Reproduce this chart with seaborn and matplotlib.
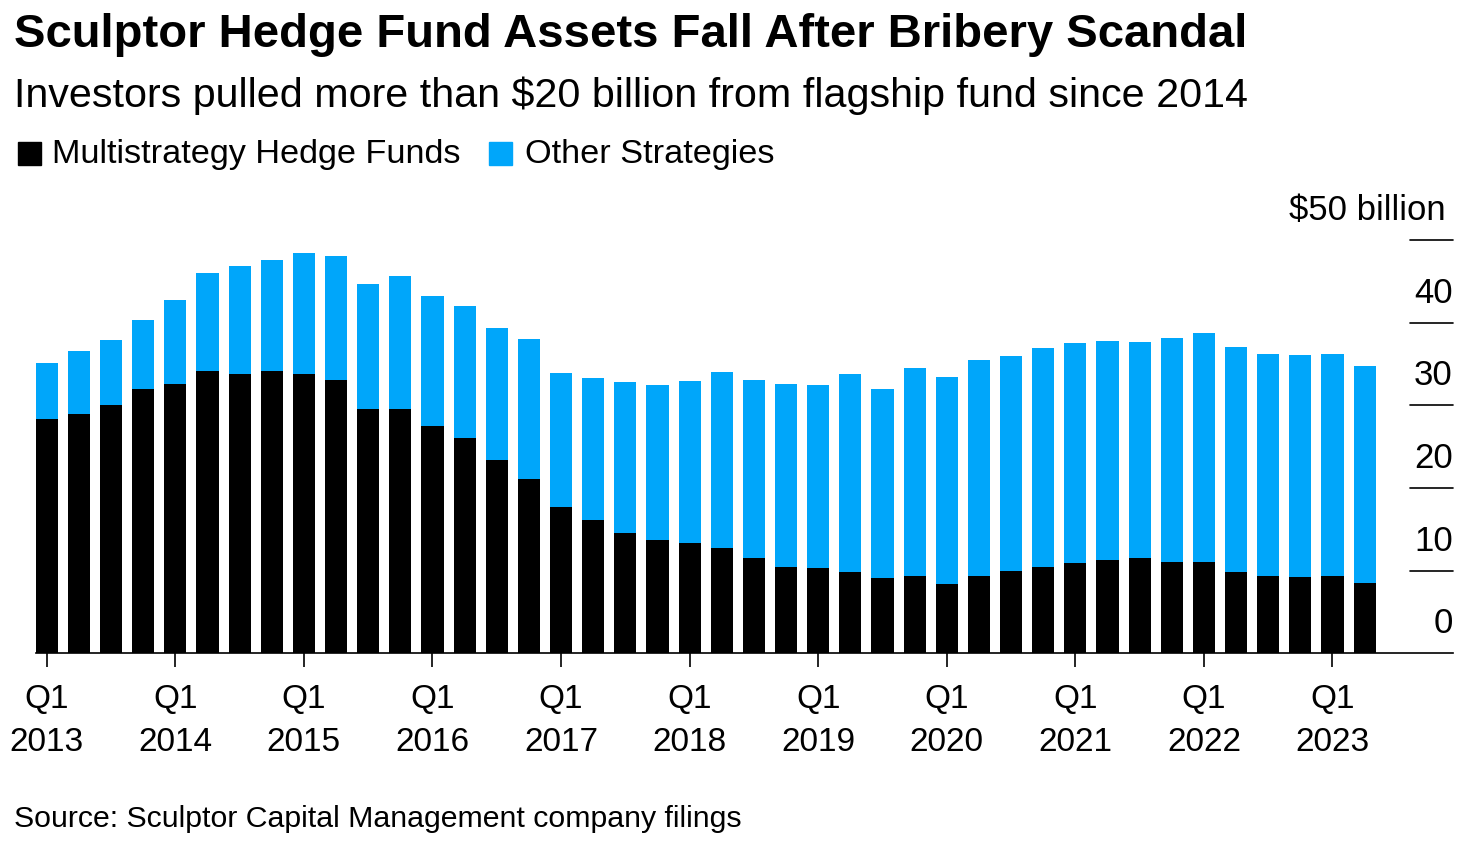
import numpy as np
import pandas as pd
import seaborn as sns
import matplotlib.pyplot as plt
from matplotlib.patches import Rectangle

# quarterly assets, $ billions
quarters = [f"Q{q} {y}" for y in range(2013, 2024) for q in range(1, 5)][:42]
multistrategy = [28.4, 29.0, 30.0, 32.0, 32.6, 34.1, 33.8, 34.2, 33.8, 33.1,
                 29.6, 29.6, 27.5, 26.1, 23.4, 21.1, 17.7, 16.1, 14.6, 13.7,
                 13.3, 12.7, 11.5, 10.4, 10.3, 9.8, 9.1, 9.3, 8.4, 9.4,
                 9.9, 10.5, 10.9, 11.3, 11.5, 11.1, 11.1, 9.8, 9.4, 9.2,
                 9.3, 8.5]
other_strategies = [6.7, 7.6, 7.9, 8.3, 10.2, 11.9, 13.0, 13.4, 14.6, 15.0,
                    15.1, 16.0, 15.7, 15.9, 16.0, 16.9, 16.2, 17.2, 18.2, 18.8,
                    19.6, 21.3, 21.6, 22.2, 22.1, 24.0, 22.9, 25.2, 25.0, 26.1,
                    26.1, 26.4, 26.6, 26.5, 26.1, 27.1, 27.6, 27.2, 26.8, 26.9,
                    26.9, 26.3]
y_ticks = [0, 10, 20, 30, 40, 50]
y_labels = ["0", "10", "20", "30", "40", "$50 billion"]

BLUE = "#00a6fa"

sns.set_style("white")
plt.rcParams["font.family"] = ["Liberation Sans", "DejaVu Sans"]
plt.rcParams["text.color"] = "black"
plt.rcParams["xtick.color"] = "black"
plt.rcParams["xtick.labelcolor"] = "black"

df = pd.DataFrame({
    "quarter": quarters,
    "multi": multistrategy,
    "total": np.array(multistrategy) + np.array(other_strategies),
})

fig = plt.figure(figsize=(14.82, 8.43), dpi=100)
W, H = 1482, 843
ax = fig.add_axes([35.7 / W, 1 - 653.3 / H, (1452.7 - 35.7) / W, (653.3 - 240) / H])

# stacked look: totals in blue, multistrategy drawn over in black
sns.barplot(data=df, x="quarter", y="total", color=BLUE, saturation=1,
            width=0.69, linewidth=0, ax=ax)
sns.barplot(data=df, x="quarter", y="multi", color="black", saturation=1,
            width=0.69, linewidth=0, ax=ax)

ax.set_xlim(-0.345, 43.74)
ax.set_ylim(0, 50)
ax.set_xlabel("")
ax.set_ylabel("")
sns.despine(ax=ax, left=True, right=True, top=True)
ax.spines["bottom"].set_linewidth(1.2)
ax.spines["bottom"].set_color("black")

xt = list(range(0, 42, 4))
ax.set_xticks(xt)
ax.set_xticklabels([q.replace(" ", "\n") for q in np.array(quarters)[xt]],
                   fontsize=24, linespacing=1.5)
ax.tick_params(axis="x", length=10, width=1.2, color="black", pad=12,
               bottom=True)
ax.set_yticks([])

# short right-side gridlines with labels above
for v, lab in zip(y_ticks, y_labels):
    if v > 0:
        ax.axhline(v, xmin=(1410 - 35.7) / (1452.7 - 35.7), xmax=1,
                   color="black", lw=1.2, clip_on=False)
    dx = -5 if v == 50 else 0
    ax.annotate(lab, xy=(1, v), xycoords=("axes fraction", "data"),
                xytext=(dx, 14.5), textcoords="offset points",
                ha="right", va="baseline", fontsize=25, annotation_clip=False)

fig.text(14 / W, 1 - 47 / H, "Sculptor Hedge Fund Assets Fall After Bribery Scandal",
         fontsize=34, fontweight="bold", va="baseline", ha="left")
fig.text(14 / W, 1 - 106.7 / H,
         "Investors pulled more than $20 billion from flagship fund since 2014",
         fontsize=29.7, va="baseline", ha="left")

# legend
for x0, col, lab, tx in [(18, "black", "Multistrategy Hedge Funds", 52),
                         (489, BLUE, "Other Strategies", 525)]:
    fig.patches.append(Rectangle((x0 / W, 1 - 165 / H), 23 / W, 23 / H,
                                 transform=fig.transFigure, color=col))
    fig.text(tx / W, 1 - 163.3 / H, lab, fontsize=24.7, va="baseline", ha="left")

fig.text(14 / W, 1 - 826.7 / H, "Source: Sculptor Capital Management company filings",
         fontsize=21.8, va="baseline", ha="left")

fig.savefig("out.png", dpi=100)
